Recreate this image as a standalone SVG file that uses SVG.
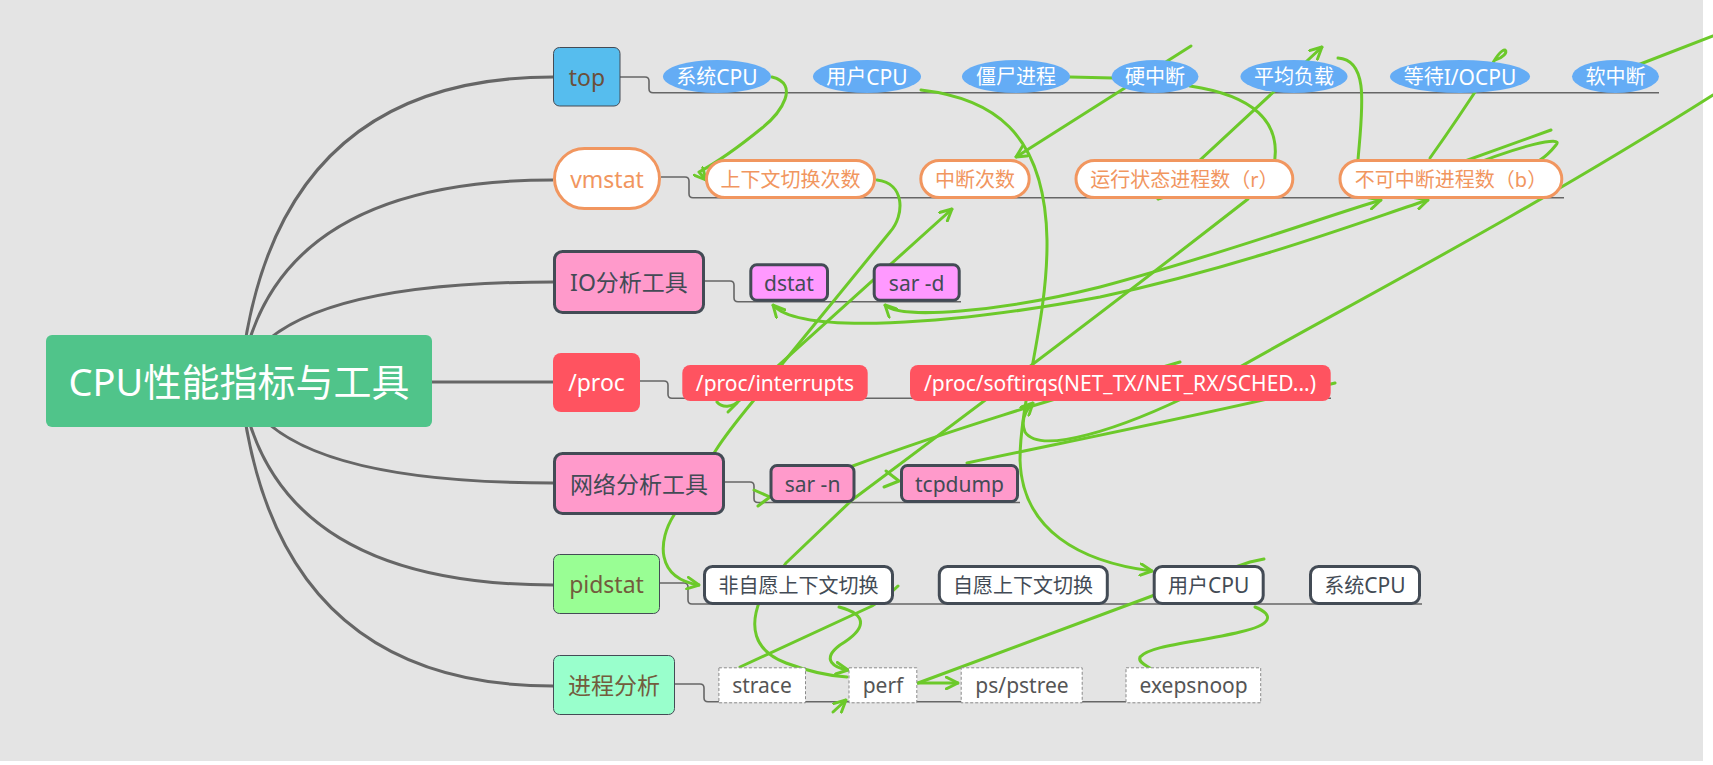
<svg xmlns="http://www.w3.org/2000/svg" width="1713" height="765" viewBox="0 0 1713 765">
<defs>
<style>
.t{font-family:"Noto Sans","Noto Sans CJK SC",sans-serif;text-anchor:middle;dominant-baseline:central}
.l1{font-size:23px}
.l2{font-size:20px}
.lat{font-size:21px}
.main{fill:none;stroke:#666;stroke-width:3}
.el{fill:none;stroke:#666;stroke-width:1.6}
.g{fill:none;stroke:#6cc92a;stroke-width:3;stroke-linecap:round;stroke-linejoin:round}
.blue{fill:#64acf5}
.pill{fill:#fff;stroke:#f1965f;stroke-width:3}
.dk{stroke:#434b55;stroke-width:3}
.dash{fill:#fff;stroke:#8a8a8a;stroke-width:1;stroke-dasharray:3 2}
</style>
<marker id="ah" viewBox="0 0 12 12" refX="11" refY="6" markerWidth="14" markerHeight="14" orient="auto" markerUnits="userSpaceOnUse">
<path d="M1 1 L11 6 L1 11" fill="none" stroke="#6cc92a" stroke-width="2.5" stroke-linecap="round" stroke-linejoin="round"/>
</marker>
<marker id="ahs" viewBox="0 0 12 12" refX="11" refY="6" markerWidth="14" markerHeight="14" orient="auto-start-reverse" markerUnits="userSpaceOnUse">
<path d="M1 1 L11 6 L1 11" fill="none" stroke="#6cc92a" stroke-width="2.5" stroke-linecap="round" stroke-linejoin="round"/>
</marker>
</defs>
<rect x="0" y="0" width="1713" height="765" fill="#fff"/>
<rect x="0" y="0" width="1703" height="761" fill="#e4e4e4"/>

<g id="connectors">
<path class="main" d="M240 381 Q270 77 553 77"/>
<path class="main" d="M240 381 Q270 180 553 180"/>
<path class="main" d="M240 381 Q270 282 553 282"/>
<path class="main" d="M420 382 L553 382"/>
<path class="main" d="M240 381 Q270 483 553 483"/>
<path class="main" d="M240 381 Q270 585 553 585"/>
<path class="main" d="M240 381 Q270 686 553 686"/>
<path class="el" d="M620 77 L645 77 Q649 77 649 81 L649 88.7 Q649 92.7 653 92.7 L1659 92.7"/>
<path class="el" d="M661 177 L685 177 Q689 177 689 181 L689 193.7 Q689 197.7 693 197.7 L1564 197.7"/>
<path class="el" d="M705 281 L730 281 Q734 281 734 285 L734 297.7 Q734 301.7 738 301.7 L961 301.7"/>
<path class="el" d="M640 381 L664 381 Q668 381 668 385 L668 394.3 Q668 398.3 672 398.3 L1331 398.3"/>
<path class="el" d="M725 482 L750 482 Q754 482 754 486 L754 498.5 Q754 502.5 758 502.5 L1020 502.5"/>
<path class="el" d="M660 583 L684 583 Q688 583 688 587 L688 600 Q688 604 692 604 L1422 604"/>
<path class="el" d="M675 684 L700 684 Q704 684 704 688 L704 697.7 Q704 701.7 708 701.7 L1261 701.7"/>
</g>

<g id="relationships">
<path class="g" d="M772 77 C800 84 782 112 762 128 C735 150 712 165 699 172 L706 180" marker-end="url(#ah)"/>
<path class="g" d="M877 180 C905 183 905 215 890 232 L783 363 C760 395 735 420 716 450 L674 515 C658 540 655 578 699 585" marker-end="url(#ah)"/>
<path class="g" d="M717 402 C722 408 732 408 740 400 L952 209" marker-end="url(#ah)"/>
<path class="g" d="M728 412 L737 403"/>
<path class="g" d="M921 90 C990 98 1045 130 1047 240 C1048 320 1020 400 1020 460 C1022 530 1080 562 1152 571" marker-end="url(#ah)"/>
<path class="g" d="M1070 77 L1113 78"/>
<path class="g" d="M1191 46 L1016 157" marker-end="url(#ah)"/>
<path class="g" d="M1190 86 C1250 95 1285 120 1273 170"/>
<path class="g" d="M1158 199 L1322 47" marker-start="url(#ahs)" marker-end="url(#ah)"/>
<path class="g" d="M1248 199 Q1080 330 852 500 L786 563 L760 600 C750 625 752 650 786 663 C810 672 830 676 847 677"/>
<path class="g" d="M833 712 L846 700" marker-end="url(#ah)"/>
<path class="g" d="M1713 95 C1500 230 1300 330 1200 390 C1120 430 1040 455 1025 432 C1020 420 1026 410 1033 403" marker-end="url(#ah)"/>
<path class="g" d="M1630 68 L1713 36"/>
<path class="g" d="M967 463 C1100 435 1250 405 1335 383"/>
<path class="g" d="M850 467 C950 430 1050 400 1180 362"/>
<path class="g" d="M754 490 L770 497 L758 506"/>
<path class="g" d="M886 471 L899 481 L884 487"/>
<path class="g" d="M1381 200 C1330 215 1220 255 1100 287 C1000 312 900 320 885 305" marker-start="url(#ahs)" marker-end="url(#ah)"/>
<path class="g" d="M1428 200 C1380 215 1250 265 1100 297 C950 325 800 335 773 305" marker-start="url(#ahs)" marker-end="url(#ah)"/>
<path class="g" d="M1440 170 L1551 130"/>
<path class="g" d="M1460 170 C1520 145 1565 135 1556 145 C1552 150 1548 155 1540 160"/>
<path class="g" d="M1358 160 C1362 110 1370 60 1338 58"/>
<path class="g" d="M1430 158 C1450 130 1470 100 1488 72 C1494 60 1500 50 1505 50 C1508 52 1503 58 1495 60"/>
<path class="g" d="M740 667 L872 606 C885 598 892 592 898 586"/>
<path class="g" d="M839 607 C870 615 865 630 840 645 C820 660 835 668 848 670" marker-end="url(#ah)"/>
<path class="g" d="M918 683 L1160 593 L1250 562 L1264 559"/>
<path class="g" d="M918 683 L958 683" marker-end="url(#ah)"/>
<path class="g" d="M1255 607 C1275 615 1272 625 1240 632 C1200 642 1150 645 1140 657 C1138 662 1145 665 1150 668"/>
</g>

<g id="root">
<rect x="46" y="335" width="386" height="92" rx="6" fill="#50c48a"/>
<text class="t" x="239" y="381" font-size="38" fill="#fff">CPU性能指标与工具</text>
</g>

<g id="top">
<rect x="553.5" y="47.5" width="66.5" height="58.5" rx="6" fill="#56bdee" stroke="#444b55" stroke-width="1"/>
<text class="t l1" x="587" y="77" fill="#6b4f3a">top</text>
</g>
<g id="top-sys"><ellipse class="blue" cx="717" cy="76.5" rx="54" ry="16.5"/><text class="t l2" x="717" y="76.5" fill="#fff">系统<tspan class="lat">CPU</tspan></text></g>
<g id="top-user"><ellipse class="blue" cx="867" cy="76.5" rx="54" ry="16.5"/><text class="t l2" x="867" y="76.5" fill="#fff">用户<tspan class="lat">CPU</tspan></text></g>
<g id="top-zombie"><ellipse class="blue" cx="1016" cy="76.5" rx="54" ry="16.5"/><text class="t l2" x="1016" y="76.5" fill="#fff">僵尸进程</text></g>
<g id="top-hardirq"><ellipse class="blue" cx="1155" cy="76.5" rx="43.5" ry="16.5"/><text class="t l2" x="1155" y="76.5" fill="#fff">硬中断</text></g>
<g id="top-load"><ellipse class="blue" cx="1294" cy="76.5" rx="53.5" ry="16.5"/><text class="t l2" x="1294" y="76.5" fill="#fff">平均负载</text></g>
<g id="top-iowait"><ellipse class="blue" cx="1460" cy="76.5" rx="70" ry="16.5"/><text class="t l2" x="1460" y="76.5" fill="#fff">等待<tspan class="lat">I/OCPU</tspan></text></g>
<g id="top-softirq"><ellipse class="blue" cx="1615.5" cy="76.5" rx="43.5" ry="16.5"/><text class="t l2" x="1615.5" y="76.5" fill="#fff">软中断</text></g>

<g id="vmstat">
<rect x="554.5" y="148.5" width="105" height="60" rx="30" fill="#fff" stroke="#f1965f" stroke-width="3"/>
<text class="t l1" x="607" y="178.5" fill="#f1965f">vmstat</text>
</g>
<g id="vm-cs"><rect class="pill" x="706.5" y="160.5" width="168" height="37" rx="18.5"/><text class="t l2" x="790.5" y="179" fill="#f1965f">上下文切换次数</text></g>
<g id="vm-in"><rect class="pill" x="920.8" y="160.5" width="108.4" height="37" rx="18.5"/><text class="t l2" x="975" y="179" fill="#f1965f">中断次数</text></g>
<g id="vm-r"><rect class="pill" x="1076" y="160.5" width="216.8" height="37" rx="18.5"/><text class="t l2" x="1184.4" y="179" fill="#f1965f">运行状态进程数（r）</text></g>
<g id="vm-b"><rect class="pill" x="1340" y="160.5" width="221.8" height="37" rx="18.5"/><text class="t l2" x="1451" y="179" fill="#f1965f">不可中断进程数（b）</text></g>

<g id="io">
<rect x="554.5" y="251.5" width="149" height="61" rx="8" fill="#ff9acb" class="dk"/>
<text class="t l1" x="629" y="282" fill="#434b55">IO分析工具</text>
</g>
<g id="io-dstat"><rect x="750.8" y="264.8" width="76.7" height="35.4" rx="6" fill="#ff99ff" class="dk"/><text class="t lat" x="789" y="282.5" fill="#434b55">dstat</text></g>
<g id="io-sard"><rect x="874.2" y="264.8" width="85" height="35.4" rx="6" fill="#ff99ff" class="dk"/><text class="t lat" x="916.7" y="282.5" fill="#434b55">sar -d</text></g>

<g id="proc">
<rect x="553" y="353" width="87" height="59" rx="8" fill="#ff5360"/>
<text class="t l1" x="596.5" y="382" fill="#fff">/proc</text>
</g>
<g id="proc-int"><rect x="682.3" y="365" width="185.4" height="36" rx="8" fill="#ff5360"/><text class="t lat" x="775" y="383" fill="#fff">/proc/interrupts</text></g>
<g id="proc-soft"><rect x="910" y="365" width="420.7" height="36" rx="8" fill="#ff5360"/><text class="t lat" x="1120" y="383" fill="#fff">/proc/softirqs(NET_TX/NET_RX/SCHED...)</text></g>

<g id="net">
<rect x="554.5" y="453.5" width="169" height="60" rx="8" fill="#ff9acb" class="dk"/>
<text class="t l1" x="639" y="483.5" fill="#434b55">网络分析工具</text>
</g>
<g id="net-sarn"><rect x="771" y="465.5" width="83" height="36" rx="6" fill="#ff9acb" class="dk"/><text class="t lat" x="812.5" y="483.5" fill="#434b55">sar -n</text></g>
<g id="net-tcpdump"><rect x="901.5" y="465.5" width="116" height="36" rx="6" fill="#ff9acb" class="dk"/><text class="t lat" x="959.5" y="483.5" fill="#434b55">tcpdump</text></g>

<g id="pidstat">
<rect x="553.5" y="554.5" width="106" height="59" rx="6" fill="#99fe94" stroke="#444b55" stroke-width="1"/>
<text class="t l1" x="606.5" y="584" fill="#735c3d">pidstat</text>
</g>
<g id="pid-nv"><rect x="704.5" y="566.5" width="188" height="37" rx="8" fill="#fff" class="dk"/><text class="t l2" x="798.5" y="585" fill="#434b55">非自愿上下文切换</text></g>
<g id="pid-v"><rect x="939.3" y="566.5" width="168" height="37" rx="8" fill="#fff" class="dk"/><text class="t l2" x="1023" y="585" fill="#434b55">自愿上下文切换</text></g>
<g id="pid-user"><rect x="1154.2" y="566.5" width="109" height="37" rx="8" fill="#fff" class="dk"/><text class="t l2" x="1208.7" y="585" fill="#434b55">用户<tspan class="lat">CPU</tspan></text></g>
<g id="pid-sys"><rect x="1310.5" y="566.5" width="109" height="37" rx="8" fill="#fff" class="dk"/><text class="t l2" x="1365" y="585" fill="#434b55">系统<tspan class="lat">CPU</tspan></text></g>

<g id="procana">
<rect x="553.5" y="655.5" width="121" height="59" rx="6" fill="#99ffcc" stroke="#444b55" stroke-width="1"/>
<text class="t l1" x="614" y="685" fill="#735c3d">进程分析</text>
</g>
<g id="pa-strace"><rect class="dash" x="718.9" y="667.8" width="86.6" height="35"/><text class="t lat" x="762" y="685.3" fill="#555">strace</text></g>
<g id="pa-perf"><rect class="dash" x="849" y="667.8" width="67.8" height="35"/><text class="t lat" x="883" y="685.3" fill="#555">perf</text></g>
<g id="pa-ps"><rect class="dash" x="961.2" y="667.8" width="121" height="35"/><text class="t lat" x="1022" y="685.3" fill="#555">ps/pstree</text></g>
<g id="pa-exec"><rect class="dash" x="1126" y="667.8" width="134.7" height="35"/><text class="t lat" x="1193.6" y="685.3" fill="#555">exepsnoop</text></g>
</svg>
